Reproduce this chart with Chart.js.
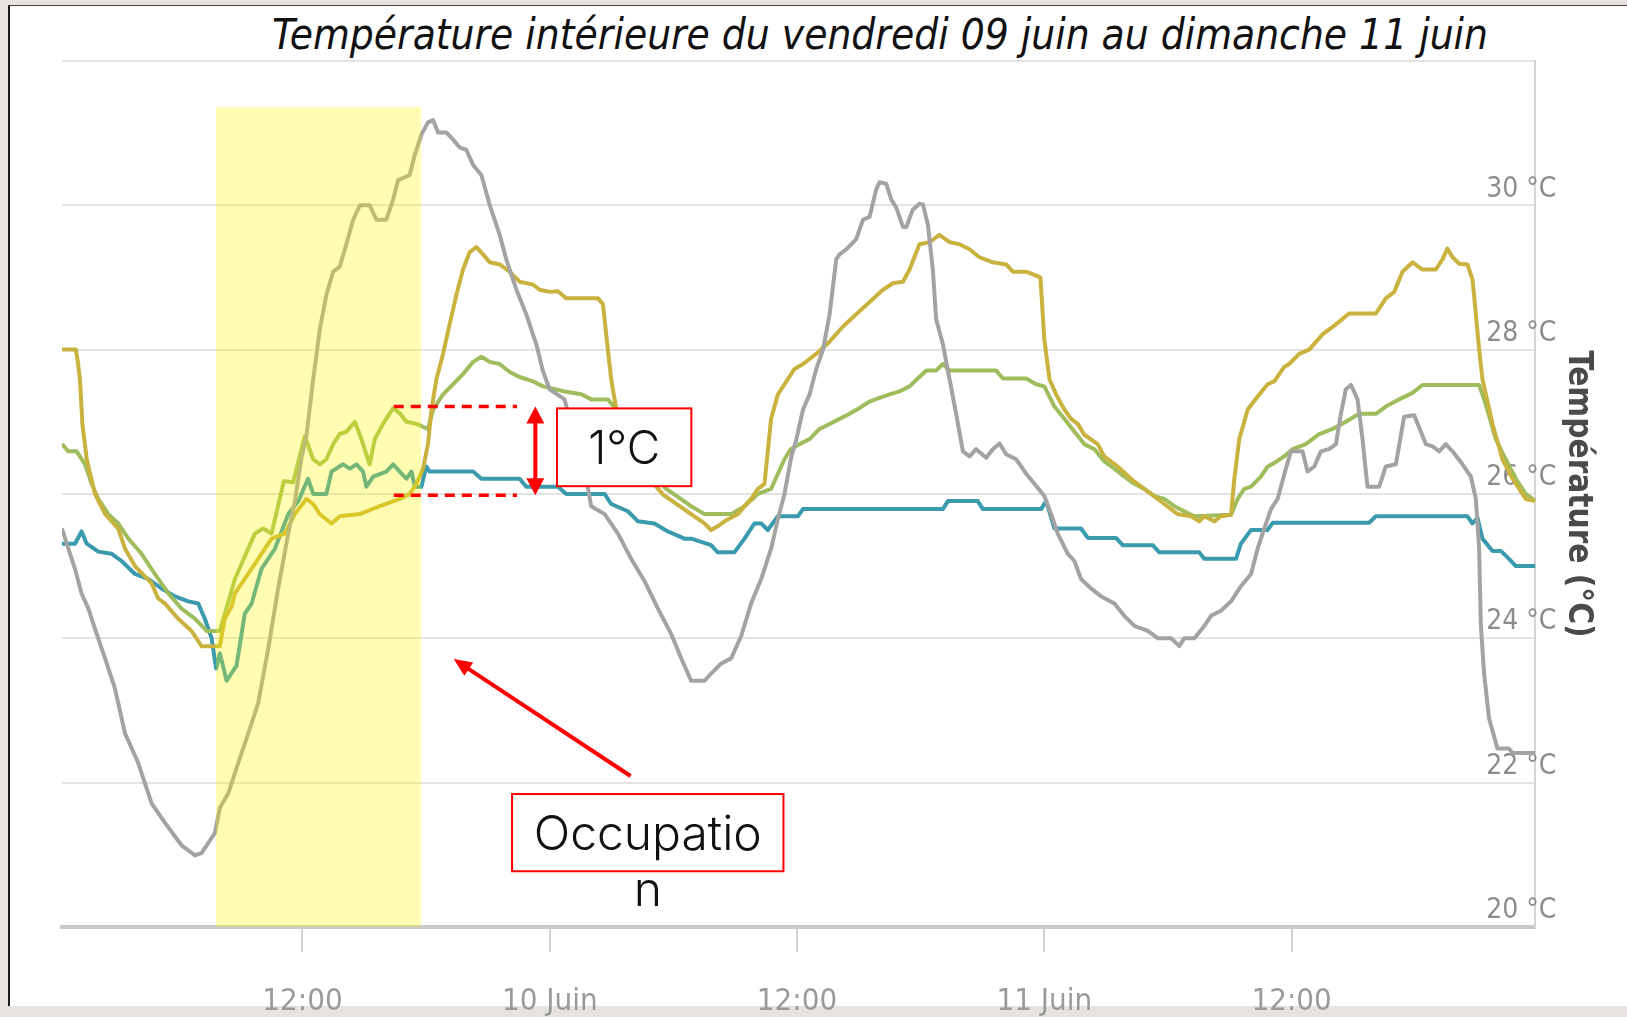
<!DOCTYPE html>
<html>
<head>
<meta charset="utf-8">
<script src="https://cdn.jsdelivr.net/npm/chart.js@4.4.1/dist/chart.umd.min.js"></script>
<style>
  html, body { margin: 0; padding: 0; overflow: hidden; }
  body { width: 1627px; height: 1017px; background: #e6e3de; position: relative; }
  #panel { position: absolute; left: 8px; top: 5px; width: 1619px; height: 1001px; background: #fff;
           border-left: 2px solid #1b1b1b; border-top: 1px solid #444; box-sizing: border-box; }
  #title { position: absolute; left: 180px; width: 1400px; top: 12px; text-align: center;
           font-family: 'Liberation Sans Narrow', 'DejaVu Sans Condensed', 'Liberation Sans', sans-serif;
           font-style: italic; font-size: 42px; line-height: 46px; color: #111; white-space: nowrap; }
  #wrap { position: absolute; left: 0; top: 0; }
</style>
</head>
<body>
<div id="panel"></div>
<div id="title">Température intérieure du vendredi 09 juin au dimanche 11 juin</div>
<div id="wrap"><canvas id="tempChart" width="1627" height="1073" style="width:1627px;height:1073px"></canvas></div>
<script>
// heures depuis le vendredi 09 juin 00:00
var xTickHours = [12, 24, 36, 48, 60];
var xTickLabels = ['12:00', '10 Juin', '12:00', '11 Juin', '12:00'];
var yTickValues = [20, 22, 24, 26, 28, 30, 32];

var grayHours = [0.33, 0.64, 0.96, 1.28, 1.61, 1.93, 2.42, 2.90, 3.39, 4.03, 4.68, 5.33, 6.13, 6.46, 6.78, 7.10, 7.75, 7.99, 8.40, 8.88,
  9.37, 9.85, 10.34, 10.82, 11.31, 11.63, 11.95, 12.19, 12.52, 12.84, 13.16, 13.49, 13.81, 14.13, 14.46, 14.78, 15.26, 15.59, 16.07, 16.40,
  16.64, 17.20, 17.45, 17.77, 18.09, 18.34, 18.58, 18.98, 19.31, 19.63, 19.95, 20.28, 20.68, 21.08, 21.57, 21.89, 22.38, 22.86, 23.35, 23.67,
  23.99, 24.72, 25.85, 26.01, 26.66, 27.31, 27.95, 28.60, 29.25, 29.89, 30.38, 30.86, 31.51, 31.83, 32.32, 32.80, 33.29, 33.77, 34.26, 34.74,
  35.07, 35.39, 35.71, 35.96, 36.29, 36.61, 36.93, 37.26, 37.58, 37.90, 38.06, 38.39, 38.87, 39.20, 39.52, 39.84, 40.00, 40.33, 40.57, 40.81,
  41.14, 41.30, 41.62, 41.94, 42.11, 42.35, 42.59, 42.75, 43.08, 43.40, 43.72, 44.05, 44.37, 44.69, 45.18, 45.50, 45.82, 46.15, 46.63, 47.12,
  47.52, 48.00, 48.33, 48.65, 49.14, 49.46, 49.78, 50.27, 50.75, 51.40, 51.88, 52.37, 53.02, 53.50, 54.15, 54.55, 54.79, 55.28, 55.76, 56.09,
  56.57, 57.06, 57.54, 58.03, 58.35, 58.67, 59.00, 59.32, 59.72, 59.97, 60.53, 60.77, 61.10, 61.42, 61.82, 62.15, 62.39, 62.63, 62.88, 63.20,
  63.44, 63.68, 64.25, 64.57, 65.06, 65.46, 65.95, 66.51, 66.84, 67.16, 67.48, 67.81, 68.29, 68.70, 68.94, 69.10, 69.18, 69.34, 69.58, 69.99,
  70.55, 70.72, 71.83];
var grayTemps = [25.52, 25.24, 24.96, 24.62, 24.41, 24.13, 23.72, 23.30, 22.68, 22.27, 21.71, 21.44, 21.13, 21.06, 20.99, 21.02, 21.30, 21.65, 21.85, 22.27,
  22.68, 23.10, 23.86, 24.69, 25.45, 25.90, 26.50, 26.80, 27.59, 28.28, 28.76, 29.08, 29.15, 29.46, 29.80, 30.00, 30.00, 29.80, 29.80, 30.08,
  30.35, 30.42, 30.70, 30.98, 31.15, 31.18, 31.01, 31.01, 30.91, 30.80, 30.77, 30.56, 30.42, 30.01, 29.59, 29.25, 28.83, 28.49, 28.07, 27.70,
  27.45, 27.31, 26.08, 25.83, 25.72, 25.45, 25.10, 24.79, 24.41, 24.06, 23.72, 23.41, 23.41, 23.51, 23.65, 23.72, 24.03, 24.48, 24.82, 25.24,
  25.65, 26.00, 26.50, 26.75, 27.17, 27.38, 27.73, 28.00, 28.49, 29.25, 29.32, 29.39, 29.53, 29.80, 29.84, 30.22, 30.32, 30.30, 30.08, 29.97,
  29.70, 29.70, 29.94, 30.02, 30.01, 29.73, 29.11, 28.42, 28.07, 27.59, 27.11, 26.59, 26.52, 26.62, 26.50, 26.62, 26.70, 26.55, 26.48, 26.28,
  26.14, 25.97, 25.72, 25.45, 25.17, 25.07, 24.82, 24.69, 24.58, 24.48, 24.31, 24.17, 24.10, 24.00, 24.00, 23.89, 24.00, 24.00, 24.17, 24.31,
  24.38, 24.51, 24.72, 24.89, 25.24, 25.52, 25.79, 25.93, 26.35, 26.59, 26.59, 26.31, 26.38, 26.59, 26.62, 26.69, 27.11, 27.45, 27.51, 27.31,
  26.76, 26.10, 26.10, 26.38, 26.41, 27.07, 27.09, 26.69, 26.66, 26.59, 26.69, 26.59, 26.41, 26.24, 25.93, 25.24, 24.20, 23.51, 22.89, 22.47,
  22.47, 22.41, 22.41];

var goldHours = [0.33, 1.00, 1.09, 1.20, 1.32, 1.53, 1.93, 2.42, 3.06, 3.39, 3.87, 4.68, 5.00, 5.33, 5.97, 6.62, 7.10, 7.99, 8.23, 8.56,
  8.72, 9.69, 10.50, 11.14, 11.63, 12.19, 12.52, 12.84, 13.41, 13.81, 14.78, 15.75, 16.72, 17.20, 17.53, 17.85, 18.09, 18.26, 18.50, 18.82,
  19.14, 19.47, 19.79, 20.11, 20.44, 20.76, 21.08, 21.57, 22.05, 22.54, 23.19, 23.51, 23.99, 24.40, 24.80, 26.34, 26.58, 26.74, 26.98, 27.23,
  28.50, 29.50, 30.86, 31.51, 31.83, 32.15, 32.48, 33.13, 33.45, 33.77, 34.10, 34.42, 34.74, 35.07, 35.39, 35.87, 36.29, 36.93, 37.58, 38.23,
  38.87, 39.52, 40.17, 40.65, 41.14, 41.46, 41.94, 42.43, 42.91, 43.40, 43.88, 44.37, 44.85, 45.50, 46.15, 46.47, 47.12, 47.81, 48.00, 48.25,
  48.57, 48.97, 49.30, 49.62, 49.94, 50.59, 50.91, 51.56, 52.37, 53.18, 53.82, 54.47, 55.12, 55.52, 55.76, 56.25, 56.57, 57.06, 57.22, 57.46,
  57.87, 58.35, 58.84, 59.16, 59.64, 59.88, 60.37, 60.85, 61.50, 62.15, 62.79, 64.09, 64.57, 64.98, 65.38, 65.87, 66.35, 67.00, 67.32, 67.56,
  67.81, 68.13, 68.53, 68.78, 68.94, 69.10, 69.26, 69.75, 70.23, 70.72, 71.36, 71.83];
var goldTemps = [28.00, 28.00, 27.85, 27.59, 26.97, 26.48, 26.00, 25.72, 25.52, 25.24, 25.00, 24.76, 24.55, 24.48, 24.27, 24.10, 23.89, 23.89, 24.27, 24.44,
  24.62, 25.03, 25.38, 25.45, 25.72, 25.93, 25.86, 25.72, 25.59, 25.69, 25.72, 25.83, 25.93, 26.00, 26.14, 26.35, 26.69, 27.17, 27.59, 27.94,
  28.35, 28.76, 29.11, 29.35, 29.42, 29.32, 29.21, 29.18, 29.08, 28.94, 28.90, 28.83, 28.80, 28.81, 28.71, 28.71, 28.63, 28.21, 27.59, 27.17,
  26.32, 25.99, 25.72, 25.59, 25.50, 25.55, 25.62, 25.72, 25.83, 25.93, 26.07, 26.14, 27.04, 27.38, 27.52, 27.73, 27.80, 27.94, 28.11, 28.32,
  28.49, 28.66, 28.83, 28.92, 28.94, 29.11, 29.46, 29.49, 29.59, 29.49, 29.46, 29.39, 29.28, 29.21, 29.18, 29.08, 29.08, 29.00, 28.14, 27.59,
  27.38, 27.17, 27.04, 26.97, 26.82, 26.69, 26.52, 26.38, 26.17, 26.00, 25.86, 25.72, 25.69, 25.62, 25.69, 25.62, 25.69, 25.71, 26.21, 26.76,
  27.17, 27.35, 27.52, 27.56, 27.76, 27.80, 27.94, 28.00, 28.21, 28.35, 28.50, 28.50, 28.71, 28.80, 29.08, 29.21, 29.11, 29.11, 29.25, 29.40,
  29.28, 29.19, 29.18, 28.97, 28.49, 28.00, 27.59, 26.97, 26.48, 26.21, 25.93, 25.90];

var greenHours = [0.33, 0.64, 1.04, 1.45, 1.77, 2.09, 2.58, 3.06, 3.55, 4.19, 4.84, 5.49, 6.13, 6.78, 7.35, 7.99, 8.72, 9.69, 10.09, 10.50,
  11.10, 11.55, 12.11, 12.52, 12.84, 13.16, 13.49, 13.81, 14.13, 14.54, 14.86, 15.26, 15.51, 15.91, 16.40, 16.72, 17.04, 17.53, 18.09, 18.34,
  18.82, 19.31, 19.79, 20.28, 20.68, 21.08, 21.57, 22.05, 22.54, 23.19, 23.67, 23.99, 24.72, 25.53, 26.01, 26.82, 27.23, 28.40, 29.60, 30.86,
  31.51, 32.80, 33.45, 34.10, 34.74, 35.07, 35.39, 35.70, 36.12, 36.61, 37.09, 37.58, 38.06, 38.55, 39.03, 39.52, 40.00, 40.49, 40.97, 41.46,
  41.94, 42.27, 42.75, 43.08, 43.40, 45.66, 45.99, 47.12, 47.60, 48.00, 48.49, 48.97, 49.46, 49.94, 50.43, 50.91, 51.40, 51.88, 52.37, 52.85,
  53.34, 53.82, 54.31, 54.79, 55.28, 57.06, 57.38, 57.70, 58.03, 58.51, 58.84, 59.16, 59.64, 60.05, 60.69, 61.34, 61.99, 62.63, 63.28, 64.09,
  64.57, 65.22, 65.87, 66.35, 69.10, 69.42, 69.91, 70.39, 70.88, 71.36, 71.83];
var greenTemps = [26.69, 26.59, 26.59, 26.41, 26.14, 25.93, 25.72, 25.59, 25.38, 25.17, 24.89, 24.62, 24.41, 24.27, 24.10, 24.10, 24.82, 25.45, 25.52, 25.45,
  26.18, 26.16, 26.80, 26.48, 26.41, 26.48, 26.69, 26.83, 26.86, 27.00, 26.76, 26.41, 26.76, 26.97, 27.19, 27.12, 27.00, 26.97, 26.90, 27.17,
  27.38, 27.52, 27.66, 27.83, 27.90, 27.83, 27.80, 27.69, 27.62, 27.56, 27.49, 27.47, 27.42, 27.38, 27.31, 27.31, 27.17, 26.60, 26.08, 25.83,
  25.72, 25.72, 25.83, 26.00, 26.07, 26.28, 26.48, 26.62, 26.69, 26.76, 26.90, 26.97, 27.04, 27.11, 27.19, 27.28, 27.33, 27.38, 27.42, 27.49,
  27.62, 27.71, 27.71, 27.80, 27.71, 27.71, 27.60, 27.60, 27.52, 27.49, 27.21, 27.04, 26.86, 26.69, 26.62, 26.45, 26.35, 26.24, 26.14, 26.07,
  25.97, 25.93, 25.83, 25.76, 25.69, 25.71, 25.93, 26.07, 26.10, 26.24, 26.38, 26.43, 26.52, 26.62, 26.69, 26.83, 26.90, 27.00, 27.11, 27.11,
  27.21, 27.31, 27.40, 27.51, 27.51, 27.24, 26.76, 26.48, 26.21, 26.00, 25.90];

var tealHours = [0.33, 0.96, 1.28, 1.53, 2.09, 2.74, 3.22, 3.87, 4.52, 5.16, 5.81, 6.46, 6.94, 7.26, 7.59, 7.81, 7.99, 8.32, 8.80, 9.20,
  9.53, 10.01, 10.66, 11.31, 11.80, 12.27, 12.52, 13.16, 13.41, 13.97, 14.30, 14.62, 14.94, 15.10, 15.43, 16.07, 16.40, 16.72, 17.04, 17.29,
  17.45, 17.77, 18.01, 18.17, 20.28, 20.68, 22.54, 22.86, 24.40, 24.80, 26.66, 26.98, 27.79, 28.28, 29.08, 29.73, 30.54, 30.86, 31.83, 32.15,
  32.96, 33.45, 33.93, 34.26, 34.58, 35.07, 36.04, 36.29, 43.08, 43.32, 44.77, 45.02, 47.84, 48.09, 48.49, 49.78, 50.11, 51.48, 51.80, 53.26,
  53.58, 55.52, 55.76, 57.30, 57.54, 58.03, 58.84, 59.08, 63.76, 64.09, 68.53, 68.78, 69.02, 69.26, 69.75, 70.15, 70.55, 70.88, 71.83];
var tealTemps = [25.31, 25.31, 25.48, 25.31, 25.20, 25.17, 25.07, 24.89, 24.82, 24.69, 24.58, 24.51, 24.48, 24.27, 24.00, 23.58, 23.79, 23.41, 23.62, 24.34,
  24.48, 24.96, 25.24, 25.72, 25.90, 26.21, 26.00, 26.00, 26.31, 26.41, 26.35, 26.41, 26.31, 26.10, 26.24, 26.31, 26.41, 26.31, 26.21, 26.31,
  26.10, 26.10, 26.38, 26.31, 26.31, 26.21, 26.21, 26.10, 26.10, 26.00, 26.00, 25.86, 25.76, 25.62, 25.59, 25.48, 25.38, 25.38, 25.29, 25.19,
  25.19, 25.38, 25.59, 25.59, 25.50, 25.69, 25.69, 25.79, 25.79, 25.90, 25.90, 25.79, 25.79, 25.90, 25.52, 25.52, 25.39, 25.39, 25.29, 25.29,
  25.19, 25.19, 25.10, 25.10, 25.31, 25.50, 25.50, 25.60, 25.60, 25.69, 25.69, 25.59, 25.67, 25.38, 25.21, 25.21, 25.10, 25.00, 25.00];

// annotations (heures / °C)
var occupation = { start: 7.8, end: 17.75, top: 31.36 };
var ecart = { start: 16.43, end: 22.41, high: 27.21, low: 25.98, arrowAt: 23.3 };
var ecartBox = { start: 24.35, end: 30.87, high: 27.185, low: 26.107, text: '1°C' };
var occBox = { start: 22.17, end: 35.34, high: 21.84, low: 20.77, lines: ['Occupatio', 'n'] };
var occArrow = { fromX: 27.92, fromY: 22.09, toX: 19.34, toY: 23.71 };

var NARROW = "'Liberation Sans Narrow', 'DejaVu Sans Condensed', 'Liberation Sans', sans-serif";
var THIN = "Inter, Lato, 'Noto Sans', sans-serif";

function pts(hours, temps) {
  return hours.map(function (h, i) { return { x: h, y: temps[i] }; });
}

function triangle(ctx, tipX, tipY, dirX, dirY, len, half) {
  var bx = tipX - dirX * len, by = tipY - dirY * len;
  ctx.beginPath();
  ctx.moveTo(tipX, tipY);
  ctx.lineTo(bx - dirY * half, by + dirX * half);
  ctx.lineTo(bx + dirY * half, by - dirX * half);
  ctx.closePath();
  ctx.fill();
}

var annotPlugin = {
  id: 'annot',
  afterDatasetsDraw: function (chart) {
    var ctx = chart.ctx, xs = chart.scales.x, ys = chart.scales.y;
    ctx.save();
    // zone d'occupation
    ctx.fillStyle = 'rgba(255, 250, 0, 0.30)';
    var x0 = xs.getPixelForValue(occupation.start), x1 = xs.getPixelForValue(occupation.end);
    var yt = ys.getPixelForValue(occupation.top), yb = ys.getPixelForValue(20);
    ctx.fillRect(x0, yt, x1 - x0, yb - yt);

    ctx.strokeStyle = '#ff0000';
    ctx.fillStyle = '#ff0000';
    // pointillés 1°C
    ctx.lineWidth = 3.5;
    ctx.setLineDash([10, 7]);
    [ecart.high, ecart.low].forEach(function (v) {
      var y = ys.getPixelForValue(v);
      ctx.beginPath();
      ctx.moveTo(xs.getPixelForValue(ecart.start), y);
      ctx.lineTo(xs.getPixelForValue(ecart.end), y);
      ctx.stroke();
    });
    ctx.setLineDash([]);
    // double flèche
    var ax = xs.getPixelForValue(ecart.arrowAt);
    var ay0 = ys.getPixelForValue(ecart.high), ay1 = ys.getPixelForValue(ecart.low);
    ctx.lineWidth = 4;
    ctx.beginPath();
    ctx.moveTo(ax, ay0 + 12);
    ctx.lineTo(ax, ay1 - 12);
    ctx.stroke();
    triangle(ctx, ax, ay0, 0, -1, 17, 9);
    triangle(ctx, ax, ay1, 0, 1, 17, 9);

    // flèche occupation
    var fx = xs.getPixelForValue(occArrow.fromX), fy = ys.getPixelForValue(occArrow.fromY);
    var tx = xs.getPixelForValue(occArrow.toX), ty = ys.getPixelForValue(occArrow.toY);
    var d = Math.hypot(tx - fx, ty - fy), ux = (tx - fx) / d, uy = (ty - fy) / d;
    ctx.beginPath();
    ctx.moveTo(fx, fy);
    ctx.lineTo(tx - ux * 10, ty - uy * 10);
    ctx.stroke();
    triangle(ctx, tx, ty, ux, uy, 18, 8);

    // boîtes de texte
    ctx.lineWidth = 2;
    [ecartBox, occBox].forEach(function (b) {
      var bx0 = xs.getPixelForValue(b.start), bx1 = xs.getPixelForValue(b.end);
      var by0 = ys.getPixelForValue(b.high), by1 = ys.getPixelForValue(b.low);
      ctx.fillStyle = '#ffffff';
      ctx.fillRect(bx0, by0, bx1 - bx0, by1 - by0);
      ctx.strokeRect(bx0, by0, bx1 - bx0, by1 - by0);
    });
    ctx.fillStyle = '#111';
    ctx.textAlign = 'center';
    ctx.textBaseline = 'alphabetic';
    ctx.font = '300 46px ' + THIN;
    var ex = (xs.getPixelForValue(ecartBox.start) + xs.getPixelForValue(ecartBox.end)) / 2;
    ctx.fillText(ecartBox.text, ex, ys.getPixelForValue(ecartBox.low) - 22);
    ctx.font = '300 48px ' + THIN;
    var ox = (xs.getPixelForValue(occBox.start) + xs.getPixelForValue(occBox.end)) / 2;
    var oy = ys.getPixelForValue(occBox.low) - 21;
    occBox.lines.forEach(function (t, i) { ctx.fillText(t, ox, oy + i * 56); });
    ctx.restore();
  }
};

var ch = document.getElementById('tempChart').getContext('2d');
var tempChart = new Chart(ch, {
  type: 'line',
  data: {
    datasets: [{
      label: 'Sonde 1',
      data: pts(grayHours, grayTemps),
      borderColor: '#a3a3a3',
      borderWidth: 4
    }, {
      label: 'Sonde 2',
      data: pts(goldHours, goldTemps),
      borderColor: '#c9b23e',
      borderWidth: 4
    }, {
      label: 'Sonde 3',
      data: pts(greenHours, greenTemps),
      borderColor: '#9fbd5c',
      borderWidth: 4
    }, {
      label: 'Sonde 4',
      data: pts(tealHours, tealTemps),
      borderColor: '#3a9aae',
      borderWidth: 4
    }]
  },
  options: {
    responsive: false,
    animation: false,
    elements: { point: { radius: 0 }, line: { tension: 0, borderJoinStyle: 'round' } },
    layout: { padding: { left: 62, top: 61, right: 30, bottom: 20 } },
    plugins: { legend: { display: false }, tooltip: { enabled: false } },
    scales: {
      x: {
        type: 'linear',
        min: 0.33,
        max: 71.83,
        afterBuildTicks: function (s) { s.ticks = xTickHours.map(function (v) { return { value: v }; }); },
        ticks: {
          autoSkip: false,
          maxRotation: 0,
          padding: 32,
          color: '#9a9a9a',
          font: { family: NARROW, size: 31 },
          callback: function (v, i) { return xTickLabels[i]; }
        },
        grid: { drawOnChartArea: false, drawTicks: true, tickLength: 25, color: '#d2d2d2', lineWidth: 2 },
        border: { display: true, color: '#c9c9c9', width: 4 }
      },
      y: {
        position: 'right',
        min: 20,
        max: 32,
        afterBuildTicks: function (s) { s.ticks = yTickValues.map(function (v) { return { value: v }; }); },
        ticks: {
          mirror: true,
          padding: 21,
          labelOffset: -16,
          color: '#8c8c8c',
          font: { family: NARROW, size: 28 },
          callback: function (v) { return v === 32 ? '' : v + ' °C'; }
        },
        grid: { drawTicks: false, color: '#e3e3e3', lineWidth: 2 },
        border: { display: true, color: '#d4d4d4', width: 2 },
        title: {
          display: true,
          text: 'Température (°C)',
          color: '#4a4a4a',
          font: { family: NARROW, size: 33, weight: 'bold' },
          padding: { top: 0, bottom: -20 }
        }
      }
    }
  },
  plugins: [annotPlugin]
});
</script>
</body>
</html>
